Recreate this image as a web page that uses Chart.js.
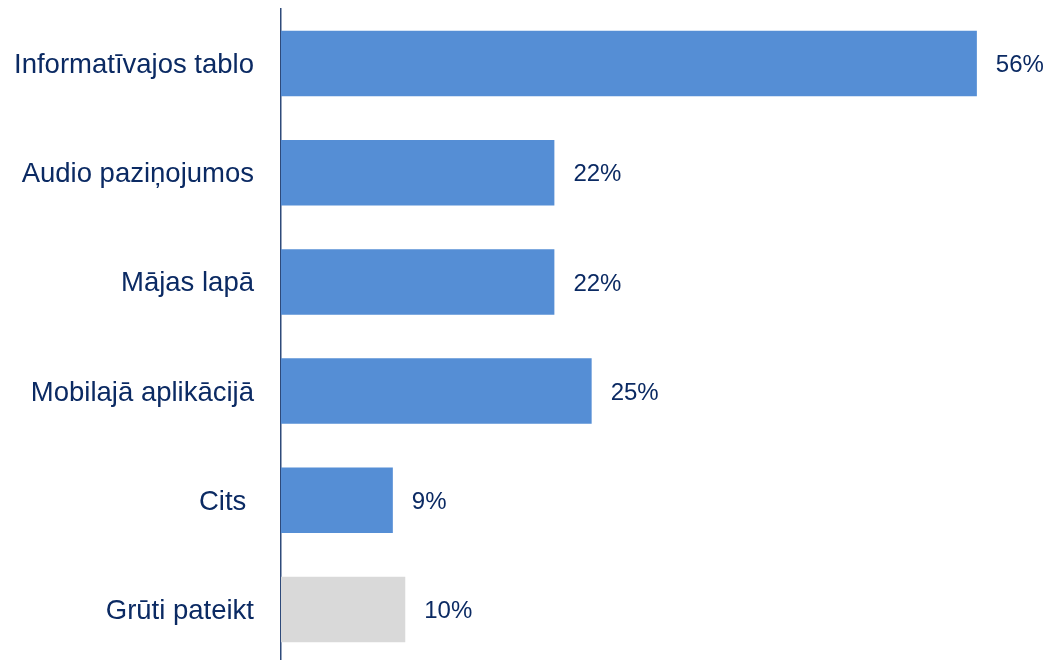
<!DOCTYPE html>
<html>
<head>
<meta charset="utf-8">
<script src="https://cdn.jsdelivr.net/npm/chart.js@4.4.1/dist/chart.umd.min.js"></script>
<style>
  html, body { margin: 0; padding: 0; background: #fff; overflow: hidden; }
  #wrap { position: relative; width: 1049px; height: 664px; }
</style>
</head>
<body>
<div id="wrap"><canvas id="infoChart"></canvas></div>
<script>
const categories = [
  'Informatīvajos tablo',
  'Audio paziņojumos',
  'Mājas lapā',
  'Mobilajā aplikācijā',
  'Cits ',
  'Grūti pateikt',
];
const shares = [56, 22, 22, 25, 9, 10];
const barColors = ['#558ed5', '#558ed5', '#558ed5', '#558ed5', '#558ed5', '#d9d9d9'];

const textColor = '#0b2a63';
const fontFamily = '"Liberation Sans", Arial, sans-serif';

// percent labels at the end of each bar
const valueLabels = {
  id: 'valueLabels',
  afterDatasetsDraw(chart) {
    const ctx = chart.ctx;
    const meta = chart.getDatasetMeta(0);
    ctx.save();
    ctx.font = `24px ${fontFamily}`;
    ctx.fillStyle = textColor;
    ctx.textAlign = 'left';
    ctx.textBaseline = 'middle';
    meta.data.forEach((bar, i) => {
      ctx.fillText(`${shares[i]}%`, bar.x + 19, bar.y + 2);
    });
    ctx.restore();
  },
};

const ctx = document.getElementById('infoChart').getContext('2d');
new Chart(ctx, {
  type: 'bar',
  data: {
    labels: categories,
    datasets: [{
      data: shares,
      backgroundColor: barColors,
      barPercentage: 0.6,
      categoryPercentage: 1,
    }],
  },
  options: {
    indexAxis: 'y',
    responsive: true,
    maintainAspectRatio: false,
    animation: false,
    events: [],
    layout: {
      padding: { top: 9, right: 10, bottom: 0, left: 0 },
    },
    plugins: {
      legend: { display: false },
      tooltip: { enabled: false },
    },
    scales: {
      x: {
        min: 0,
        max: 61,
        display: false,
      },
      y: {
        afterFit(scale) {
          scale.width = 281; // keeps the axis line at a fixed spot
          scale.paddingTop = 0;
          scale.paddingBottom = 0;
        },
        grid: {
          display: false,
          drawTicks: false,
        },
        border: {
          display: true,
          color: '#2e4a7a',
          width: 1.5,
        },
        ticks: {
          color: textColor,
          padding: 27,
          labelOffset: 2,
          font: {
            family: fontFamily,
            size: 27.5,
          },
        },
      },
    },
  },
  plugins: [valueLabels],
});
</script>
</body>
</html>
